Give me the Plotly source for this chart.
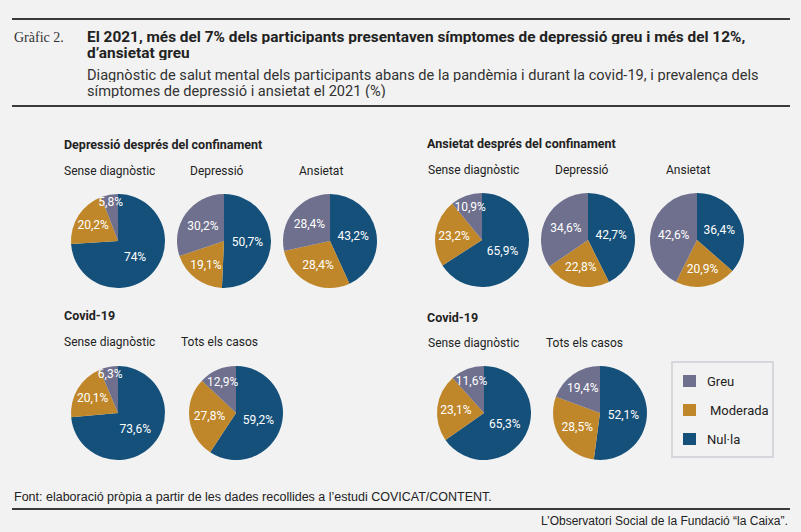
import plotly.graph_objects as go

# categories (drawn clockwise from 12 o'clock)
severity = ["Nul·la", "Moderada", "Greu"]
severity_colors = ["#14507a", "#c0872a", "#6f6f8e"]
legend_order = ["Greu", "Moderada", "Nul·la"]

# Depressió després del confinament
dep_sense = [74, 20.2, 5.8]
dep_depressio = [50.7, 19.1, 30.2]
dep_ansietat = [43.2, 28.4, 28.4]

# Ansietat després del confinament
ans_sense = [65.9, 23.2, 10.9]
ans_depressio = [42.7, 22.8, 34.6]
ans_ansietat = [36.4, 20.9, 42.6]

# Covid-19 (depressió / ansietat)
cov_dep_sense = [73.6, 20.1, 6.3]
cov_dep_tots = [59.2, 27.8, 12.9]
cov_ans_sense = [65.3, 23.1, 11.6]
cov_ans_tots = [52.1, 28.5, 19.4]

W, H = 801, 532
BG = "#f2f2f2"
SANS = "Roboto, Arial, sans-serif"
NARROW = "Liberation Sans Narrow, Arial Narrow, sans-serif"


def fx(x):
    return x / W


def fy(y):
    return 1 - y / H


def fmt(v):
    return f"{v:g}".replace(".", ",") + "%"


# (values, subtitle, pie centre x, centre y, label x, label y)
pies = [
    (dep_sense, "Sense diagnòstic", 118, 241, 62, 171),
    (dep_depressio, "Depressió", 224, 241, 188, 171),
    (dep_ansietat, "Ansietat", 330, 241, 297, 171),
    (ans_sense, "Sense diagnòstic", 482, 240, 426, 170),
    (ans_depressio, "Depressió", 588, 240, 553, 170),
    (ans_ansietat, "Ansietat", 697, 240, 664, 170),
    (cov_dep_sense, "Sense diagnòstic", 118, 413, 62, 342),
    (cov_dep_tots, "Tots els casos", 236, 413, 179, 342),
    (cov_ans_sense, "Sense diagnòstic", 484, 413, 426, 343),
    (cov_ans_tots, "Tots els casos", 600, 413, 544, 343),
]
R = 47

fig = go.Figure()
ann = []
for vals, sub, cx, cy, lx, ly in pies:
    fig.add_trace(go.Pie(
        labels=severity, values=vals, text=[fmt(v) for v in vals],
        textinfo="text", textposition="inside", insidetextorientation="horizontal",
        textfont=dict(family=SANS, size=12, color="white"),
        marker=dict(colors=severity_colors, line=dict(width=0)),
        sort=False, direction="clockwise", rotation=0,
        hoverinfo="skip", showlegend=False,
        domain=dict(x=[fx(cx - R), fx(cx + R)], y=[fy(cy + R), fy(cy - R)]),
    ))
    ann.append(dict(x=fx(lx), y=fy(ly), text=sub, font=dict(family=SANS, size=12, color="#222")))

# section headings
for txt, x, y in [("Depressió després del confinament", 62, 145),
                  ("Ansietat després del confinament", 425, 143),
                  ("Covid-19", 62, 315), ("Covid-19", 425, 317)]:
    ann.append(dict(x=fx(x), y=fy(y), text=f"<b>{txt}</b>", font=dict(family=SANS, size=12.5, color="#222")))

# header (tight leading as in the original layout)
ann += [
    dict(x=fx(12), y=fy(37), text="Gràfic 2.", font=dict(family="Liberation Serif, serif", size=14, color="#333")),
    dict(x=fx(85), y=fy(36), height=15, text="<b>El 2021, més del 7% dels participants presentaven símptomes de depressió greu i més del 12%,</b>",
         font=dict(family=SANS, size=15.4, color="#222")),
    dict(x=fx(85), y=fy(52), height=15, text="<b>d’ansietat greu</b>", font=dict(family=SANS, size=15.4, color="#222")),
    dict(x=fx(85), y=fy(75), height=15, text="Diagnòstic de salut mental dels participants abans de la pandèmia i durant la covid-19, i prevalença dels",
         font=dict(family=SANS, size=14.6, color="#333")),
    dict(x=fx(85), y=fy(91), height=15, text="símptomes de depressió i ansietat el 2021 (%)", font=dict(family=SANS, size=14.6, color="#333")),
    dict(x=fx(12), y=fy(497), text="Font: elaboració pròpia a partir de les dades recollides a l’estudi COVICAT/CONTENT.",
         font=dict(family=NARROW, size=12.5, color="#222")),
    dict(x=fx(790), y=fy(521), xanchor="right", text="L’Observatori Social de la Fundació “la Caixa”.",
         font=dict(family=NARROW, size=12, color="#222")),
]

shapes = [
    dict(type="line", x0=fx(12), x1=fx(790), y0=fy(19), y1=fy(19), line=dict(color="#3a3a3a", width=2)),
    dict(type="line", x0=fx(12), x1=fx(790), y0=fy(106), y1=fy(106), line=dict(color="#3a3a3a", width=2)),
    dict(type="line", x0=fx(12), x1=fx(790), y0=fy(509), y1=fy(509), line=dict(color="#3a3a3a", width=2)),
    # legend box
    dict(type="rect", x0=fx(672), x1=fx(773), y0=fy(457), y1=fy(362), line=dict(color="#d6d6dc", width=2)),
]

# legend entries
for i, name in enumerate(legend_order):
    col = severity_colors[severity.index(name)]
    ly = 381 + i * 29
    shapes.append(dict(type="rect", x0=fx(683), x1=fx(696), y0=fy(ly + 6), y1=fy(ly - 6),
                       fillcolor=col, line=dict(width=0)))
    ann.append(dict(x=fx(705 if name != "Moderada" else 708), y=fy(ly), text=name,
                    font=dict(family=SANS, size=13, color="#222")))

for a in ann:
    a.setdefault("xref", "paper")
    a.setdefault("yref", "paper")
    a.setdefault("xanchor", "left")
    a.setdefault("yanchor", "middle")
    a["showarrow"] = False

fig.update_layout(
    width=W, height=H, margin=dict(l=0, r=0, t=0, b=0),
    paper_bgcolor=BG, plot_bgcolor=BG,
    annotations=ann, shapes=shapes, showlegend=False,
    uniformtext=dict(minsize=12, mode="show"),
)

fig.write_html("out.html", config={"displayModeBar": False},
               post_script="document.body.style.margin='0';document.body.style.background='%s';" % BG)
